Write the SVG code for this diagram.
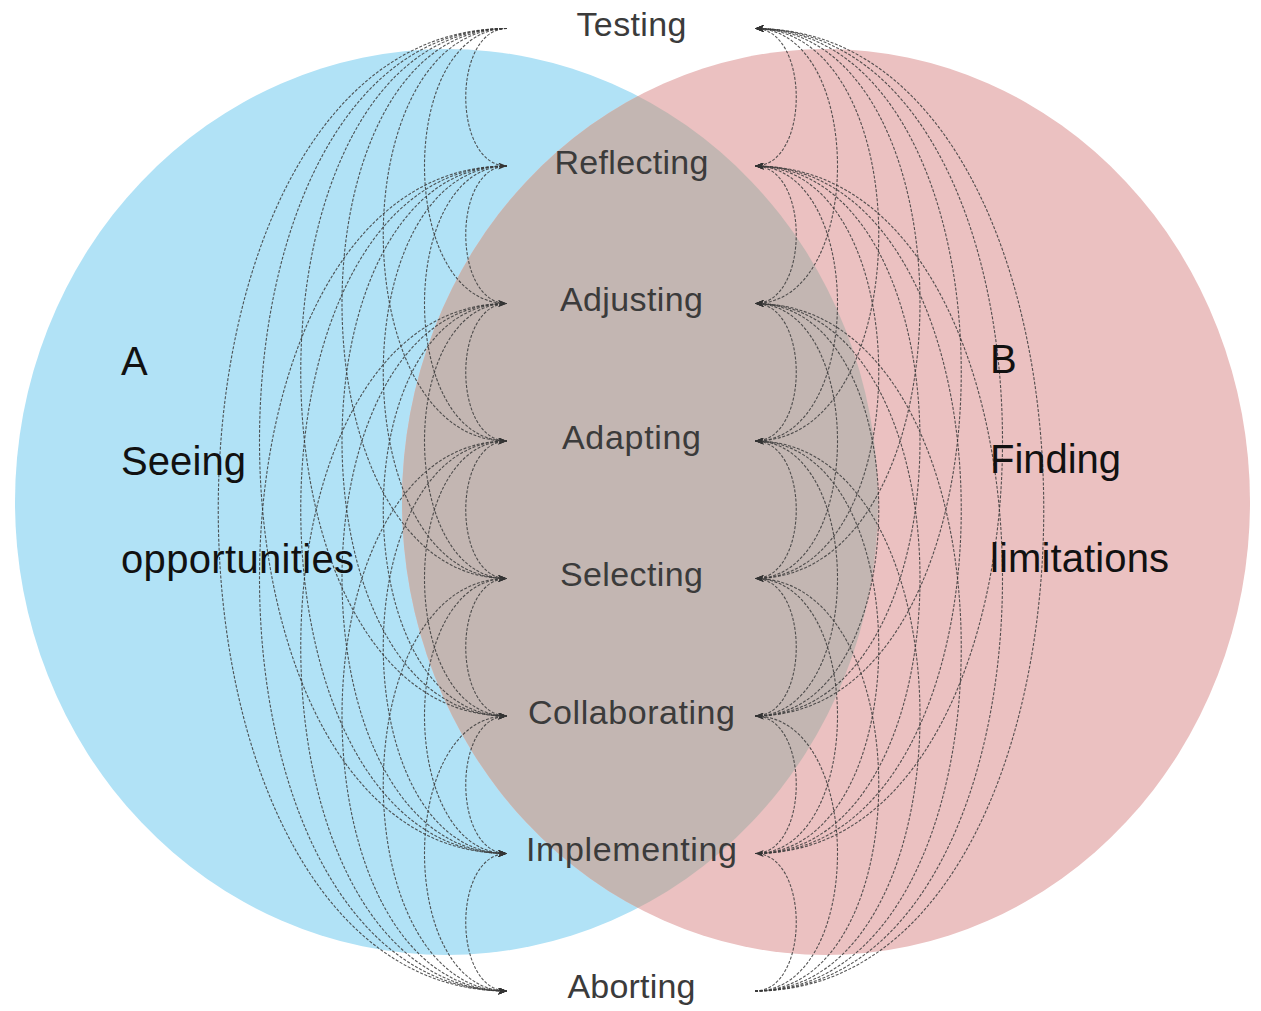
<svg xmlns="http://www.w3.org/2000/svg" width="1261" height="1011" viewBox="0 0 1261 1011">
<style>
.lbl{font-family:"Liberation Sans",Arial,sans-serif;font-size:34px;fill:#3b3b3b;text-anchor:middle}
.side{font-family:"Liberation Sans",Arial,sans-serif;font-size:40px;fill:#111}
.conn path{fill:none;stroke:#3a3a3a;stroke-width:1.1;stroke-dasharray:3 1.6;stroke-opacity:0.85}
</style>
<defs>
<marker id="ah" viewBox="0 0 10 8" refX="10" refY="4" markerWidth="12" markerHeight="7" markerUnits="userSpaceOnUse" orient="auto">
<path d="M0,0 L10,4 L0,8 L2.5,4 z" fill="#333"/>
</marker>
<clipPath id="clipA"><ellipse cx="446.5" cy="502" rx="431.5" ry="453"/></clipPath>
</defs>
<rect width="1261" height="1011" fill="#fff"/>
<g id="setA"><ellipse cx="446.5" cy="502" rx="431.5" ry="453" fill="#b1e2f6"/></g>
<g id="setB"><ellipse cx="826" cy="502" rx="424" ry="453" fill="#ebc1c1"/></g>
<g id="overlap"><ellipse cx="826" cy="502" rx="424" ry="453" fill="#c3b6b2" clip-path="url(#clipA)"/></g>
<g id="connectors" class="conn" marker-end="url(#ah)">
<path d="M507,28.5 C452,28.5 452,166 507,166"/>
<path d="M507,28.5 C397,28.5 397,303.5 507,303.5"/>
<path d="M507,28.5 C342,28.5 342,441 507,441"/>
<path d="M507,28.5 C287,28.5 287,578.5 507,578.5"/>
<path d="M507,28.5 C232,28.5 232,716 507,716"/>
<path d="M507,28.5 C177,28.5 177,853.5 507,853.5"/>
<path d="M507,28.5 C122,28.5 122,991 507,991"/>
<path d="M507,166 C452,166 452,303.5 507,303.5"/>
<path d="M507,166 C397,166 397,441 507,441"/>
<path d="M507,166 C342,166 342,578.5 507,578.5"/>
<path d="M507,166 C287,166 287,716 507,716"/>
<path d="M507,166 C232,166 232,853.5 507,853.5"/>
<path d="M507,166 C177,166 177,991 507,991"/>
<path d="M507,303.5 C452,303.5 452,441 507,441"/>
<path d="M507,303.5 C397,303.5 397,578.5 507,578.5"/>
<path d="M507,303.5 C342,303.5 342,716 507,716"/>
<path d="M507,303.5 C287,303.5 287,853.5 507,853.5"/>
<path d="M507,303.5 C232,303.5 232,991 507,991"/>
<path d="M507,441 C452,441 452,578.5 507,578.5"/>
<path d="M507,441 C397,441 397,716 507,716"/>
<path d="M507,441 C342,441 342,853.5 507,853.5"/>
<path d="M507,441 C287,441 287,991 507,991"/>
<path d="M507,578.5 C452,578.5 452,716 507,716"/>
<path d="M507,578.5 C397,578.5 397,853.5 507,853.5"/>
<path d="M507,578.5 C342,578.5 342,991 507,991"/>
<path d="M507,716 C452,716 452,853.5 507,853.5"/>
<path d="M507,716 C397,716 397,991 507,991"/>
<path d="M507,853.5 C452,853.5 452,991 507,991"/>
<path d="M755,166 C810,166 810,28.5 755,28.5"/>
<path d="M755,303.5 C865,303.5 865,28.5 755,28.5"/>
<path d="M755,441 C920,441 920,28.5 755,28.5"/>
<path d="M755,578.5 C975,578.5 975,28.5 755,28.5"/>
<path d="M755,716 C1030,716 1030,28.5 755,28.5"/>
<path d="M755,853.5 C1085,853.5 1085,28.5 755,28.5"/>
<path d="M755,991 C1140,991 1140,28.5 755,28.5"/>
<path d="M755,303.5 C810,303.5 810,166 755,166"/>
<path d="M755,441 C865,441 865,166 755,166"/>
<path d="M755,578.5 C920,578.5 920,166 755,166"/>
<path d="M755,716 C975,716 975,166 755,166"/>
<path d="M755,853.5 C1030,853.5 1030,166 755,166"/>
<path d="M755,991 C1085,991 1085,166 755,166"/>
<path d="M755,441 C810,441 810,303.5 755,303.5"/>
<path d="M755,578.5 C865,578.5 865,303.5 755,303.5"/>
<path d="M755,716 C920,716 920,303.5 755,303.5"/>
<path d="M755,853.5 C975,853.5 975,303.5 755,303.5"/>
<path d="M755,991 C1030,991 1030,303.5 755,303.5"/>
<path d="M755,578.5 C810,578.5 810,441 755,441"/>
<path d="M755,716 C865,716 865,441 755,441"/>
<path d="M755,853.5 C920,853.5 920,441 755,441"/>
<path d="M755,991 C975,991 975,441 755,441"/>
<path d="M755,716 C810,716 810,578.5 755,578.5"/>
<path d="M755,853.5 C865,853.5 865,578.5 755,578.5"/>
<path d="M755,991 C920,991 920,578.5 755,578.5"/>
<path d="M755,853.5 C810,853.5 810,716 755,716"/>
<path d="M755,991 C865,991 865,716 755,716"/>
<path d="M755,991 C810,991 810,853.5 755,853.5"/>
</g>
<g id="node-testing"><text class="lbl" x="631.5" y="36" textLength="110">Testing</text></g>
<g id="node-reflecting"><text class="lbl" x="631.5" y="173.5" textLength="154">Reflecting</text></g>
<g id="node-adjusting"><text class="lbl" x="631.5" y="311" textLength="143">Adjusting</text></g>
<g id="node-adapting"><text class="lbl" x="631.5" y="448.5" textLength="139">Adapting</text></g>
<g id="node-selecting"><text class="lbl" x="631.5" y="586" textLength="143">Selecting</text></g>
<g id="node-collaborating"><text class="lbl" x="631.5" y="723.5" textLength="207">Collaborating</text></g>
<g id="node-implementing"><text class="lbl" x="631.5" y="861" textLength="211">Implementing</text></g>
<g id="node-aborting"><text class="lbl" x="631.5" y="998" textLength="128">Aborting</text></g>
<g id="label-A">
<text class="side" x="121" y="375">A</text>
<text class="side" x="121" y="475" textLength="125">Seeing</text>
<text class="side" x="121" y="573" textLength="233">opportunities</text>
</g>
<g id="label-B">
<text class="side" x="990" y="373">B</text>
<text class="side" x="990" y="473" textLength="131">Finding</text>
<text class="side" x="990" y="572" textLength="179">limitations</text>
</g>
</svg>
